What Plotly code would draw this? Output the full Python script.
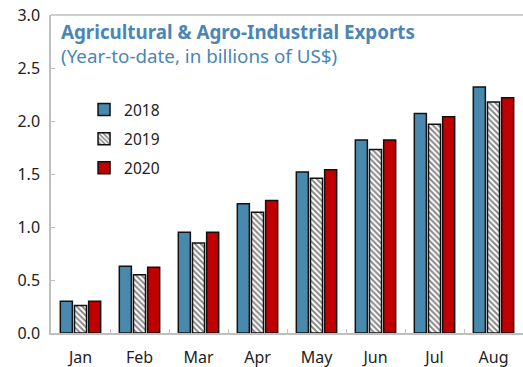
import plotly.graph_objects as go

# Year-to-date agricultural & agro-industrial exports (billions of US$)
months = ["Jan", "Feb", "Mar", "Apr", "May", "Jun", "Jul", "Aug"]
exports_2018 = [0.30, 0.63, 0.95, 1.22, 1.52, 1.82, 2.07, 2.32]
exports_2019 = [0.26, 0.55, 0.85, 1.14, 1.46, 1.73, 1.97, 2.18]
exports_2020 = [0.30, 0.62, 0.95, 1.25, 1.54, 1.82, 2.04, 2.22]
y_ticks = [0.0, 0.5, 1.0, 1.5, 2.0, 2.5, 3.0]

FONT = "Noto Sans"
TITLE_COLOR = "#4a86b4"

fig = go.Figure()
fig.add_trace(go.Bar(
    name="2018", x=months, y=exports_2018, legendgroup="a",
    marker=dict(color="#4a89ae", line=dict(color="#111111", width=1.5)),
))
fig.add_trace(go.Bar(
    name="2019", x=months, y=exports_2019, legendgroup="b",
    marker=dict(color="white", line=dict(color="#111111", width=1.5),
                pattern=dict(shape="\\", fgcolor="#111111", bgcolor="white",
                             size=4, solidity=0.5)),
))
fig.add_trace(go.Bar(
    name="2020", x=months, y=exports_2020, legendgroup="c",
    marker=dict(color="#c00000", line=dict(color="#111111", width=1.5)),
))

fig.update_layout(
    width=523, height=367,
    margin=dict(l=51, r=0, t=15, b=34),
    paper_bgcolor="white", plot_bgcolor="white",
    barmode="group", bargap=0.28, bargroupgap=0.15,
    font=dict(family=FONT, size=16, color="#222222"),
    showlegend=True,
    legend=dict(x=0.07, y=0.755, xanchor="left", yanchor="top",
                tracegroupgap=6, font=dict(size=15.5, color="#222222"),
                bgcolor="rgba(0,0,0,0)"),
    xaxis=dict(showline=True, linecolor="#bfbfbf", linewidth=1.5,
               ticks="inside", tickson="boundaries", ticklen=4,
               tickcolor="#bfbfbf", showgrid=False, ticklabelstandoff=9),
    yaxis=dict(range=[0, 3.0], tickvals=y_ticks,
               ticktext=[f"{v:.1f}" for v in y_ticks],
               showline=True, linecolor="#bfbfbf", linewidth=1.5,
               ticks="inside", ticklen=4, tickcolor="#bfbfbf",
               showgrid=False, zeroline=False, ticklabelstandoff=6),
    shapes=[dict(type="line", xref="paper", yref="paper", x0=0, x1=1,
                 y0=1, y1=1, line=dict(color="#bfbfbf", width=1.5))],
    annotations=[
        dict(text="<b>Agricultural & Agro-Industrial Exports</b>",
             xref="paper", yref="paper", x=0.016, y=0.945,
             xanchor="left", yanchor="middle", showarrow=False,
             font=dict(family=FONT, size=18.8, color=TITLE_COLOR)),
        dict(text="(Year-to-date, in billions of US$)",
             xref="paper", yref="paper", x=0.016, y=0.87,
             xanchor="left", yanchor="middle", showarrow=False,
             font=dict(family=FONT, size=18.8, color=TITLE_COLOR)),
    ],
)

fig.write_html("out.html")
